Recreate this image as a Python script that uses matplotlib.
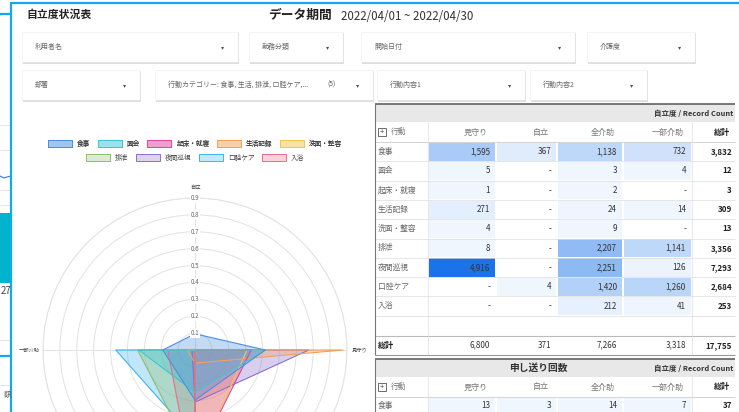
import matplotlib.pyplot as plt
import matplotlib.colors as mcolors
from matplotlib.patches import Rectangle, Patch
import numpy as np

plt.rcParams['font.family'] = ['Noto Sans CJK JP', 'DejaVu Sans']

W, H = 739, 412

# --- data ---
koudou = ['食事', '面会', '起床・就寝', '生活記録', '洗面・整容', '排泄', '夜間巡視', '口腔ケア', '入浴']
levels = ['見守り', '自立', '全介助', '一部介助']
mimamori = [1595, 5, 1, 271, 4, 8, 4916, 0, 0]
jiritsu = [367, 0, 0, 0, 0, 0, 0, 4, 0]
zenkaijo = [1138, 3, 2, 24, 9, 2207, 2251, 1420, 212]
ichibu = [732, 4, 0, 14, 0, 1141, 126, 1260, 41]

okuri_koudou = ['食事']
okuri_mimamori = [13]
okuri_jiritsu = [3]
okuri_zenkaijo = [14]
okuri_ichibu = [7]

filters_row1 = ['利用者名', '勤務分類', '開始日付', '介護度']
filters_row2 = ['部署', '行動カテゴリー: 食事, 生活, 排泄, 口腔ケア,...', '行動内容1', '行動内容2']

radar_ticks = [0.1, 0.2, 0.3, 0.4, 0.5, 0.6, 0.7, 0.8, 0.9]
edge_colors = ['#4a90e2', '#3cc6d6', '#e0479e', '#f5a05a', '#f2c94c',
               '#8cc06a', '#8a6fd1', '#3db4f2', '#f06b8a']

counts = np.array([mimamori, jiritsu, zenkaijo, ichibu]).T
okuri = np.array([okuri_mimamori, okuri_jiritsu, okuri_zenkaijo, okuri_ichibu]).T

fig = plt.figure(figsize=(W / 100, H / 100), dpi=100)
bg = fig.add_axes([0, 0, 1, 1])
bg.set_xlim(0, W)
bg.set_ylim(H, 0)
bg.axis('off')


def rect(x0, y0, x1, y1, **kw):
    bg.add_patch(Rectangle((x0, y0), x1 - x0, y1 - y0, **kw))


def hline(x0, x1, y, **kw):
    bg.plot([x0, x1], [y, y], solid_capstyle='butt', **kw)


def vline(x, y0, y1, **kw):
    bg.plot([x, x], [y0, y1], solid_capstyle='butt', **kw)


# --- partial panel on the far left ---
for y in [125, 150, 190, 205, 340, 385]:
    hline(0, 11, y, color='#dddddd', lw=0.6)
bg.plot([0, 4, 7, 11], [176, 178, 177, 176], color='#3b7be0', lw=0.8)
rect(0, 213, 11, 283, fc='#00b3cc', ec='none')
bg.text(11, 291, '27', ha='right', va='center', fontsize=7, color='#444444')
bg.text(11, 395, '額', ha='right', va='center', fontsize=5.5, color='#666666')

# cyan frame
cyan = '#14a9ee'
hline(11, W, 3, color=cyan, lw=1.6)
hline(0, 11, 14, color=cyan, lw=1.6)
vline(11, 2.2, H, color=cyan, lw=1.6)
hline(0, 11, 356, color=cyan, lw=1.6)

# --- titles ---
bg.text(26, 15, '自立度状況表', fontsize=7.8, fontweight='bold', va='center', color='#222222')
bg.text(268, 15, 'データ期間', fontsize=9.2, fontweight='bold', va='center', color='#222222')
bg.text(341, 16, '2022/04/01 ~ 2022/04/30', fontsize=8.3, va='center', color='#333333')

# --- filter boxes ---
boxes1 = [(22, 238), (249, 343), (361, 575), (587, 695)]
boxes2 = [(22, 140), (155, 373), (377, 525), (530, 647)]
for row, boxes, (y0, y1) in [(filters_row1, boxes1, (32, 62)), (filters_row2, boxes2, (70, 100))]:
    for label, (x0, x1) in zip(row, boxes):
        rect(x0 + 0.5, y0 + 1, x1 + 1, y1 + 1.5, fc=(0, 0, 0, 0.13), ec='none')
        rect(x0, y0, x1, y1, fc='white', ec=(0, 0, 0, 0.08), lw=0.4)
        bg.text(x0 + 13, (y0 + y1) / 2, label, fontsize=5, va='center', color='#666666')
        bg.text(x1 - 15, (y0 + y1) / 2, '▾', fontsize=4.5, va='center', ha='center', color='#555555')
bg.text(331, 85, '(5)', fontsize=4.8, va='center', ha='center', color='#555555')

# --- pivot tables ---
col_edges = [375, 428, 496, 557, 623, 692, 735]
heat = mcolors.LinearSegmentedColormap.from_list('heat', ['#f0f6fe', '#1a73e8'])
vmax = counts.max()


def fmt(v):
    return f'{v:,}' if v else '-'


def table_header(top, title=None):
    hline(col_edges[0], col_edges[-1], top, color='#555555', lw=1.1)
    rect(col_edges[0], top, col_edges[-1], top + 18, fc='#e8e8e8', ec='none')
    bg.text(733, top + 9, '自立度 / Record Count', fontsize=5.4, fontweight='bold',
            ha='right', va='center', color='#333333')
    if title:
        bg.text(538, top + 9, title, fontsize=7, fontweight='bold', ha='center',
                va='center', color='#333333')
    hy = top + 18
    hc = hy + 10
    rect(378, hc - 4, 386, hc + 4, fc='white', ec='#555555', lw=0.6)
    bg.text(382, hc, '+', fontsize=5.5, ha='center', va='center', color='#333333')
    bg.text(391, hc, '行動', fontsize=5.6, va='center', color='#777777')
    for i, lv in enumerate(levels):
        bg.text(col_edges[i + 2] - 8, hc, lv, fontsize=5.8, ha='right', va='center', color='#777777')
    bg.text(col_edges[-1] - 5, hc, '総計', fontsize=5.8, ha='right', va='center',
            fontweight='bold', color='#222222')
    hline(col_edges[0], col_edges[-1], hy + 20, color='#cccccc', lw=0.6)
    return hy + 20


def table_rows(start, names, data, row_h):
    for r, name in enumerate(names):
        y0 = start + r * row_h
        yc = y0 + row_h / 2
        bg.text(378, yc, name, fontsize=5.6, va='center', color='#666666')
        for c in range(4):
            v = data[r, c]
            fc = heat(v / vmax) if v else 'white'
            rect(col_edges[c + 1] + 0.6, y0 + 0.6, col_edges[c + 2] - 0.6, y0 + row_h - 0.6,
                 fc=fc, ec='none')
            bg.text(col_edges[c + 2] - 6, yc, fmt(v), fontsize=5.8, ha='right', va='center',
                    color='#333333')
        bg.text(col_edges[-1] - 3, yc, fmt(data[r].sum()), fontsize=5.8, ha='right',
                va='center', fontweight='bold', color='#222222')
        hline(col_edges[0], col_edges[-1], y0 + row_h, color='#dddddd', lw=0.5)


# table 1
start = table_header(104)
row_h = 19.3
table_rows(start, koudou, counts, row_h)
end_rows = start + row_h * len(koudou)
tot_top = end_rows + 20
hline(col_edges[0], col_edges[-1], tot_top, color='#bbbbbb', lw=0.8)
tot_c = tot_top + 9.5
bg.text(378, tot_c, '総計', fontsize=5.8, fontweight='bold', va='center', color='#222222')
for c in range(4):
    bg.text(col_edges[c + 2] - 6, tot_c, fmt(counts[:, c].sum()), fontsize=5.8, ha='right',
            va='center', color='#333333')
bg.text(col_edges[-1] - 3, tot_c, fmt(counts.sum()), fontsize=5.8, ha='right',
        va='center', fontweight='bold', color='#222222')
hline(col_edges[0], col_edges[-1], tot_top + 19, color='#999999', lw=0.8)
for x in [col_edges[1], col_edges[-2]]:
    vline(x, start - 20, tot_top + 19, color='#dddddd', lw=0.5)
vline(col_edges[0], 104, tot_top + 19, color='#777777', lw=0.8)

# table 2
start2 = table_header(359, '申し送り回数')
table_rows(start2, okuri_koudou, okuri, 18)
vline(col_edges[0], 359, H, color='#777777', lw=0.8)
for x in [col_edges[1], col_edges[-2]]:
    vline(x, start2 - 20, H, color='#dddddd', lw=0.5)

# --- radar chart ---
cx, cy, rad = 195, 350, 152
ax = fig.add_axes([(cx - rad) / W, (H - cy - rad) / H, 2 * rad / W, 2 * rad / H],
                  projection='polar')
ax.set_facecolor('none')
ax.set_theta_zero_location('N')
ax.set_theta_direction(-1)
level_angles = np.deg2rad([90, 0, 180, 270])
ax.set_ylim(0, 0.9)
ax.set_yticks(radar_ticks)
ax.set_yticklabels([])
ax.set_xticks(np.deg2rad([0, 90, 180, 270]))
ax.set_xticklabels([])
ax.grid(color='#e2e2e2', lw=0.7)
ax.spines['polar'].set_color('#e2e2e2')
ax.spines['polar'].set_linewidth(0.7)

fractions = counts / counts.sum(axis=1, keepdims=True)
order = np.argsort(level_angles)
theta = np.append(level_angles[order], level_angles[order][0])
for i in reversed(range(len(koudou))):
    r = fractions[i][order]
    r = np.append(r, r[0])
    ax.fill(theta, r, facecolor=edge_colors[i], alpha=0.33, zorder=3)
    ax.plot(theta, r, color=edge_colors[i], lw=0.8, zorder=4)

for t in radar_ticks:
    ax.text(0, t, f'{t:.1f}', fontsize=4.5, ha='center', va='center', color='#666666',
            zorder=6, bbox=dict(boxstyle='square,pad=0.12', fc='white', ec='none'))
ax.text(0, 0.965, '自立', fontsize=3.8, ha='center', va='center', color='#444444')
ax.text(np.pi / 2, 0.93, '見守り', fontsize=3.8, ha='left', va='center', color='#444444')
ax.text(3 * np.pi / 2, 0.92, '一部介助', fontsize=3.8, ha='right', va='center', color='#444444')

# legend, two centred rows
handles = [Patch(facecolor=mcolors.to_rgba(c, 0.3), edgecolor=c, lw=0.7) for c in edge_colors]
leg_kw = dict(loc='center', frameon=False, fontsize=4.8, handlelength=3.6, handleheight=1.2,
              handletextpad=0.75, columnspacing=1.1, labelcolor='#444444')
leg1 = fig.legend(handles[:5], koudou[:5], ncol=5,
                  bbox_to_anchor=(cx / W, 1 - 144 / H), **leg_kw)
fig.add_artist(leg1)
fig.legend(handles[5:], koudou[5:], ncol=4, bbox_to_anchor=(cx / W, 1 - 158 / H), **leg_kw)

fig.savefig('out.png', dpi=100)
